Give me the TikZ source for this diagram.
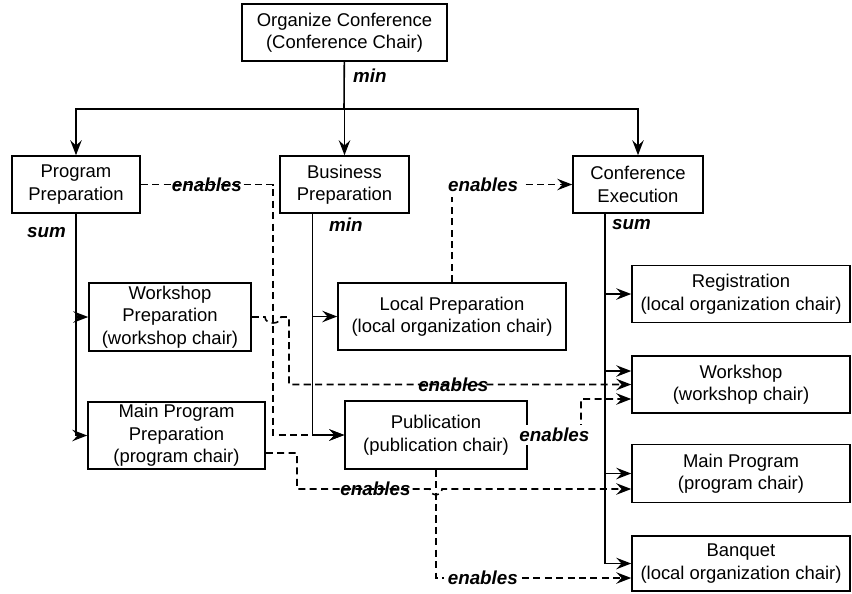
\documentclass[tikz,border=0pt]{standalone}
\usepackage{fontspec}
\setmainfont{Liberation Sans}
\usetikzlibrary{arrows.meta}

\begin{document}
\begin{tikzpicture}[x=0.02cm,y=-0.02cm,
box/.style 2 args={draw,line width=0.9pt,align=center,inner sep=0pt,minimum width=#1cm,minimum height=#2cm,font=\fontsize{10.5}{12.8}\selectfont},
decomp/.style={line width=0.9pt,-{Stealth[length=8.5pt,width=6.5pt,inset=3pt]}},
enab/.style={line width=0.9pt,dash pattern=on 4pt off 2.5pt,-{Stealth[length=8.5pt,width=6.5pt,inset=3pt]}},
lbl/.style={inner sep=1pt,font=\fontsize{10.7}{13}\selectfont\bfseries\itshape}]
\useasboundingbox (0,0) rectangle (852,593);
% tasks
\node[box={4.1}{1.14}] (org) at (344.5,32.5) {Organize Conference\\(Conference Chair)};
\node[box={2.56}{1.14}] (prog) at (76,184.5) {Program\\Preparation};
\node[box={2.58}{1.14}] (bus) at (344.5,184.5) {Business\\Preparation};
\node[box={2.6}{1.14}] (exec) at (638,184.5) {Conference\\Execution};
\node[box={3.24}{1.36}] (wsprep) at (170,317) {Workshop\\Preparation\\(workshop chair)};
\node[box={3.54}{1.34}] (mainprep) at (176.5,435.5) {Main Program\\Preparation\\(program chair)};
\node[box={4.56}{1.34}] (local) at (452,316.5) {Local Preparation\\(local organization chair)};
\node[box={3.64}{1.36}] (pub) at (436,435) {Publication\\(publication chair)};
\node[box={4.36}{1.14}] (reg) at (741,294) {Registration\\(local organization chair)};
\node[box={4.36}{1.14}] (ws) at (741,384.5) {Workshop\\(workshop chair)};
\node[box={4.36}{1.16}] (mainprog) at (741,473.5) {Main Program\\(program chair)};
\node[box={4.36}{1.1}] (banquet) at (741,563.5) {Banquet\\(local organization chair)};
% decomposition
\coordinate (split) at (344,109);
\draw[decomp,-] (org) -- (split);
\foreach \c in {prog,bus,exec}
\draw[decomp] (split) -| (\c);
\node[lbl,anchor=west] (minA) at (351,76) {min};
\foreach \c in {wsprep,mainprep}
\draw[decomp] (prog.south) |- (\c.west);
\node[lbl,anchor=east] (sumP) at (68,233) {sum};
\foreach \c in {local,pub}
\draw[decomp] ([xshift=-0.64cm]bus.south) |- (\c.west);
\node[lbl,anchor=west] (minB) at (327,225) {min};
\foreach \c/\dy in {reg/0,ws/0.27,mainprog/0,banquet/0}
\draw[decomp] ([xshift=-0.66cm]exec.south) |- ([yshift=\dy cm]\c.west);
\node[lbl,anchor=west] (sumE) at (610,225) {sum};
% enables
\draw[enab] (prog.east) -- node[lbl]{enables} (273,184.5) |- (pub.west);
\draw[enab] (wsprep.east) -- (265,317) .. controls (265,325) and (281,325) .. (281,317) -- (289,317) |- node[lbl,pos=0.74]{enables} (ws.west);
\draw[enab] (pub.east) -- node[lbl,fill=white,inner sep=2pt]{enables} (581,435) -- (581,399) -- ([yshift=-0.29cm]ws.west);
\draw[enab] ([yshift=-0.35cm]mainprep.east) -- (297,453) -- (297,489) -- node[lbl,pos=0.59]{enables} (430,489) .. controls (430,497) and (442,497) .. (442,489) -- ([yshift=-0.31cm]mainprog.west);
\draw[enab] (pub.south) |- node[lbl,fill=white,inner sep=2pt,pos=0.62]{enables} ([yshift=-0.29cm]banquet.west);
\draw[enab] (local.north) |- node[lbl,fill=white,inner sep=3pt,pos=0.5,anchor=west,xshift=-0.2cm]{enables} (exec.west);
\end{tikzpicture}
\end{document}
